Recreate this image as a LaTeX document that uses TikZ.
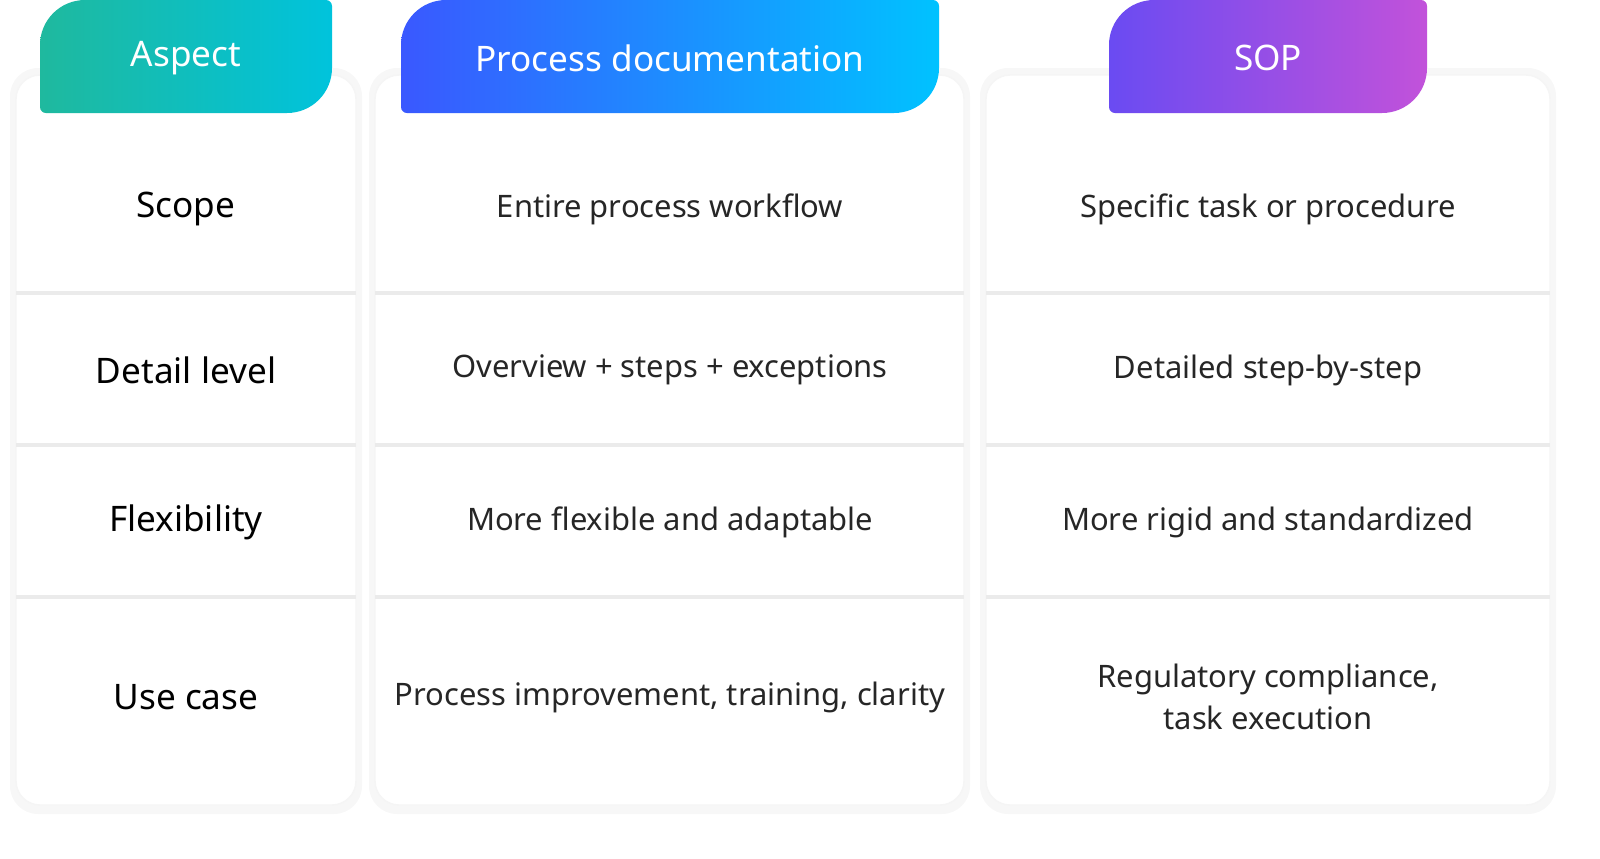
\documentclass[tikz,border=0pt]{standalone}
\usepackage{fontspec}
\setmainfont{Noto Sans}
\usetikzlibrary{positioning}
\tikzset{
    every node/.style={inner sep=0pt, font=\fontsize{22}{30}\selectfont, text=black!85},
    head/.style={font=\fontsize{25}{30}\selectfont\bfseries, text=white},
    aspect/.style={font=\fontsize{25}{30}\selectfont\bfseries, text=black},
    card/.style={fill=white, draw=black!4, line width=1pt, rounded corners=0.6cm},
    sep/.style={draw=black!8, line width=2.5pt}
}
\definecolor{tealA}{HTML}{1FB99E}
\definecolor{tealB}{HTML}{00C3DC}
\definecolor{blueA}{HTML}{3A58FF}
\definecolor{blueB}{HTML}{00C2FF}
\definecolor{purpA}{HTML}{6A4BF2}
\definecolor{purpB}{HTML}{C252DA}
% header tab, rounded top-left and bottom-right
\newcommand{\headtab}[4]{%
  \shade[left color=#3, right color=#4]
    (#1,-107) -- (#1,-45) arc(180:90:45) -- (#2-6,0) arc(90:0:6)
    -- (#2,-68) arc(0:-90:45) -- (#1+6,-113) arc(270:180:6) -- cycle;}

\begin{document}
\begin{tikzpicture}[x=0.025cm,y=0.025cm]
	\useasboundingbox (0,0) rectangle (1600,-858);
	% cards with soft shadow
	\foreach \a/\b in {16/356, 375/964, 986/1550} {
		\fill[black!3, rounded corners=0.7cm] (\a-6,-68) rectangle (\b+6,-814);
		\path[card] (\a,-75) rectangle (\b,-805);
		\foreach \y in {293, 445, 597}
			\draw[sep] (\a,-\y) -- (\b,-\y);
	}
	\headtab{40}{332}{tealA}{tealB}
	\headtab{401}{939}{blueA}{blueB}
	\headtab{1109}{1427}{purpA}{purpB}
	\node[head] (h1) at (186,-58) {Aspect};
	\node[head] (h2) at (670,-58) {Process documentation};
	\node[head] (h3) at (1268,-58) {SOP};

	\node[aspect] (a1) at (186,-209) {Scope};
	\node[aspect] (a2) at (186,-370) {Detail level};
	\node[aspect] (a3) at (186,-522) {Flexibility};
	\node[aspect] (a4) at (186,-697) {Use case};

	\node (p1) at (670,-209) {Entire process workflow};
	\node (p2) at (670,-370) {Overview + steps + exceptions};
	\node (p3) at (670,-522) {More flexible and adaptable};
	\node (p4) at (670,-697) {Process improvement, training, clarity};

	\node (s1) at (1268,-209) {Specific task or procedure};
	\node (s2) at (1268,-370) {Detailed step-by-step};
	\node (s3) at (1268,-522) {More rigid and standardized};
	\node[align=center] (s4) at (1268,-697) {Regulatory compliance,\\task execution};
\end{tikzpicture}
\end{document}
